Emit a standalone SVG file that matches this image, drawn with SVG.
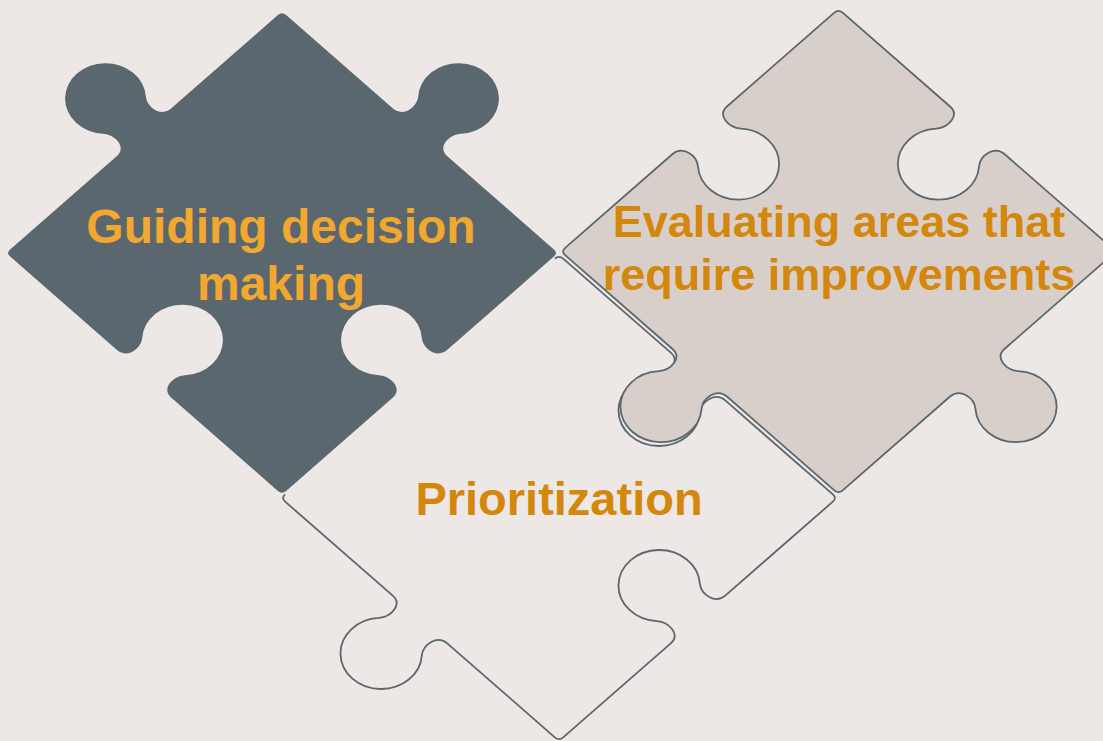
<svg xmlns="http://www.w3.org/2000/svg" width="1103" height="741" viewBox="0 0 1103 741">
  <style>
    .bg { fill: #EDE8E5; }
    .edge { stroke: #5B676E; stroke-width: 1.8; vector-effect: non-scaling-stroke; stroke-linejoin: round; }
    .dark { fill: #5B676E; }
    .taupe { fill: #D9CFCA; }
    .plain { fill: #EDE8E5; }
    .lbl { font-family: "Liberation Sans", Arial, sans-serif; font-weight: bold; text-anchor: middle; }
    .lbl-light { fill: #F2A82E; font-size: 48px; }
    .lbl-deep { fill: #D4870D; }
  </style>
  <rect class="bg" x="0" y="0" width="1103" height="741"/>

  <g id="connectors"/>

  <!-- Prioritization (bottom piece) -->
  <g id="node-prioritization">
    <g transform="translate(559,498) scale(1.9658,1.7183) rotate(45)">
      <path class="plain" d="M -97,-100 L -19.6,-100 C -12.4,-100 -11.4,-90.7 -15.5,-85.8 A 20.7,20.7 0 1 0 15.5,-85.8 C 11.4,-90.7 12.4,-100 19.6,-100 L 97,-100 Q 100,-100 100,-97 L 100,-19.6 C 100,-12.4 90.7,-11.4 85.8,-15.5 A 20.7,20.7 0 1 0 85.8,15.5 C 90.7,11.4 100,12.4 100,19.6 L 100,97 Q 100,100 97,100 L 19.6,100 C 12.4,100 11.4,109.3 15.5,114.2 A 20.7,20.7 0 1 1 -15.5,114.2 C -11.4,109.3 -12.4,100 -19.6,100 L -97,100 Q -100,100 -100,97 L -100,19.6 C -100,12.4 -109.3,11.4 -114.2,15.5 A 20.7,20.7 0 1 1 -114.2,-15.5 C -109.3,-11.4 -100,-12.4 -100,-19.6 L -100,-97 Q -100,-100 -97,-100 Z"/>
      <path class="edge" fill="none" d="M -100,-97 Q -100,-100 -97,-100 L -19.6,-100 C -12.4,-100 -11.4,-90.7 -15.5,-85.8 A 20.7,20.7 0 1 0 15.5,-85.8 C 11.4,-90.7 12.4,-100 19.6,-100 L 97,-100 Q 100,-100 100,-97 L 100,-19.6 C 100,-12.4 90.7,-11.4 85.8,-15.5 A 20.7,20.7 0 1 0 85.8,15.5 C 90.7,11.4 100,12.4 100,19.6 L 100,97 Q 100,100 97,100 L 19.6,100 C 12.4,100 11.4,109.3 15.5,114.2 A 20.7,20.7 0 1 1 -15.5,114.2 C -11.4,109.3 -12.4,100 -19.6,100 L -97,100 Q -100,100 -100,97"/>
    </g>
    <text class="lbl lbl-deep" x="559" y="515" font-size="47">Prioritization</text>
  </g>

  <!-- Evaluating areas (right piece) -->
  <g id="node-evaluating">
    <g transform="translate(838.5,251.5) scale(1.9622,1.7147) rotate(45)">
      <path class="taupe edge" d="M -97,-100 L -19.6,-100 C -12.4,-100 -11.4,-90.7 -15.5,-85.8 A 20.7,20.7 0 1 0 15.5,-85.8 C 11.4,-90.7 12.4,-100 19.6,-100 L 97,-100 Q 100,-100 100,-97 L 100,-19.6 C 100,-12.4 109.3,-11.4 114.2,-15.5 A 20.7,20.7 0 1 1 114.2,15.5 C 109.3,11.4 100,12.4 100,19.6 L 100,97 Q 100,100 97,100 L 19.6,100 C 12.4,100 11.4,109.3 15.5,114.2 A 20.7,20.7 0 1 1 -15.5,114.2 C -11.4,109.3 -12.4,100 -19.6,100 L -97,100 Q -100,100 -100,97 L -100,19.6 C -100,12.4 -90.7,11.4 -85.8,15.5 A 20.7,20.7 0 1 0 -85.8,-15.5 C -90.7,-11.4 -100,-12.4 -100,-19.6 L -100,-97 Q -100,-100 -97,-100 Z"/>
    </g>
    <text class="lbl lbl-deep" x="839" font-size="45"><tspan x="839" y="237">Evaluating areas that</tspan><tspan x="839" y="290">require improvements</tspan></text>
  </g>

  <!-- Guiding decision making (dark piece) -->
  <g id="node-guiding">
    <g transform="translate(282,253) scale(1.9516,1.7077) rotate(45)">
      <path class="dark" d="M -97,-100 L -19.6,-100 C -12.4,-100 -11.4,-109.3 -15.5,-114.2 A 20.7,20.7 0 1 1 15.5,-114.2 C 11.4,-109.3 12.4,-100 19.6,-100 L 97,-100 Q 100,-100 100,-97 L 100,-19.6 C 100,-12.4 90.7,-11.4 85.8,-15.5 A 20.7,20.7 0 1 0 85.8,15.5 C 90.7,11.4 100,12.4 100,19.6 L 100,97 Q 100,100 97,100 L 19.6,100 C 12.4,100 11.4,90.7 15.5,85.8 A 20.7,20.7 0 1 0 -15.5,85.8 C -11.4,90.7 -12.4,100 -19.6,100 L -97,100 Q -100,100 -100,97 L -100,19.6 C -100,12.4 -109.3,11.4 -114.2,15.5 A 20.7,20.7 0 1 1 -114.2,-15.5 C -109.3,-11.4 -100,-12.4 -100,-19.6 L -100,-97 Q -100,-100 -97,-100 Z"/>
    </g>
    <text class="lbl lbl-light"><tspan x="281" y="243">Guiding decision</tspan><tspan x="281" y="300">making</tspan></text>
  </g>
</svg>
